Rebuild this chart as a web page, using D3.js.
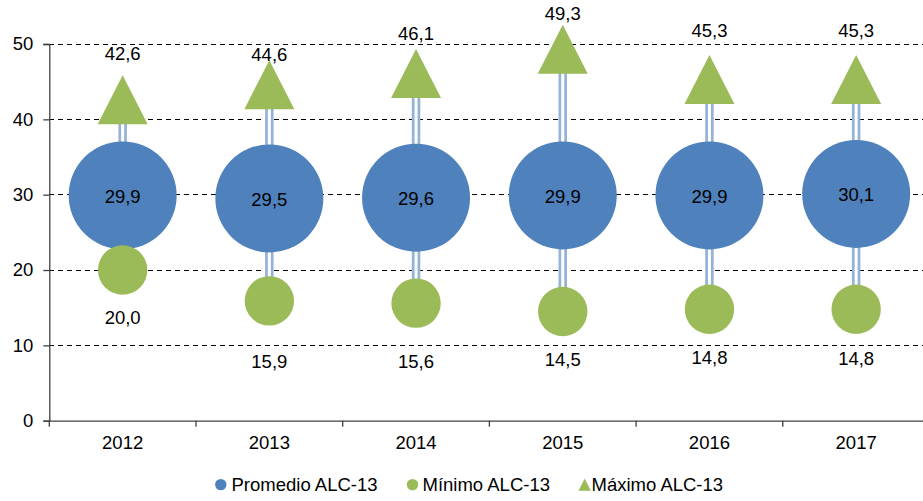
<!DOCTYPE html>
<html>
<head>
<meta charset="utf-8">
<script src="https://cdn.jsdelivr.net/npm/d3@7"></script>
<style>
  body { margin: 0; background: #fff; }
  svg { display: block; }
  text { font-family: "Liberation Sans", Arial, sans-serif; fill: #000; }
</style>
</head>
<body>
<svg id="chart" width="923" height="501"></svg>
<script>
// ---- data ----
const years = ["2012", "2013", "2014", "2015", "2016", "2017"];
const promedio = [29.9, 29.5, 29.6, 29.9, 29.9, 30.1];
const minimo = [20.0, 15.9, 15.6, 14.5, 14.8, 14.8];
const maximo = [42.6, 44.6, 46.1, 49.3, 45.3, 45.3];
const yTicks = [0, 10, 20, 30, 40, 50];
const seriesNames = ["Promedio ALC-13", "Mínimo ALC-13", "Máximo ALC-13"];

// ---- layout ----
const maxLabelDy = [-46, -30, -40, -36, -49, -49];
const minLabelDy = [48, 61, 58, 48, 48, 49];
const colors = { avg: "#4F81BD", min: "#9BBB59", max: "#9BBB59", hilo: "#95B3D7" };
const fontSize = 18.5;

const svg = d3.select("#chart");
const x = d3.scaleBand().domain(years).range([49.3, 929.5]);
const y = d3.scaleLinear().domain([0, 50]).range([420.7, 44]);
const fmt = d3.formatLocale({ decimal: ",", thousands: ".", grouping: [3], currency: ["", ""] }).format(".1f");
const cx = d => x(d) + x.bandwidth() / 2;

// gridlines
svg.append("g").selectAll("line")
  .data(yTicks.filter(v => v > 0))
  .join("line")
  .attr("x1", 49.3).attr("x2", 923)
  .attr("y1", d => y(d)).attr("y2", d => y(d))
  .attr("stroke", "#000").attr("stroke-width", 1)
  .attr("stroke-dasharray", "5,4")
  .attr("shape-rendering", "crispEdges");

// y axis
const yAxis = svg.append("g").attr("transform", "translate(49.3,0)")
  .call(d3.axisLeft(y).tickValues(yTicks).tickSize(6).tickPadding(10).tickFormat(d3.format("d")));
yAxis.selectAll("text").style("font-size", fontSize + "px").attr("fill", "#000");
yAxis.selectAll("line,path").attr("stroke", "#404040").attr("stroke-width", 1.3);

// x axis: labels centred in each band, ticks on the band edges
const xAxis = svg.append("g").attr("transform", "translate(0,420.7)")
  .call(d3.axisBottom(x).tickSize(0).tickPadding(15).tickSizeOuter(0));
xAxis.selectAll("text").style("font-size", fontSize + "px").attr("fill", "#000");
xAxis.select("path").attr("stroke", "#404040").attr("stroke-width", 1.3);
xAxis.selectAll(".edge")
  .data(years.map(d => x(d)).concat([x.range()[1]]))
  .join("line").attr("class", "edge")
  .attr("x1", d => d).attr("x2", d => d)
  .attr("y1", 0).attr("y2", 6)
  .attr("stroke", "#404040").attr("stroke-width", 1.3);

// high-low connectors (double line)
const hilo = svg.append("g");
hilo.selectAll(".outer").data(years).join("line").attr("class", "outer")
  .attr("x1", d => cx(d)).attr("x2", d => cx(d))
  .attr("y1", (d, i) => y(minimo[i])).attr("y2", (d, i) => y(maximo[i]))
  .attr("stroke", colors.hilo).attr("stroke-width", 8.5);
hilo.selectAll(".inner").data(years).join("line").attr("class", "inner")
  .attr("x1", d => cx(d)).attr("x2", d => cx(d))
  .attr("y1", (d, i) => y(minimo[i])).attr("y2", (d, i) => y(maximo[i]))
  .attr("stroke", "#fff").attr("stroke-width", 3);

// average markers
svg.append("g").selectAll("circle").data(years).join("circle")
  .attr("cx", d => cx(d)).attr("cy", (d, i) => y(promedio[i]))
  .attr("r", 54).attr("fill", colors.avg);

// minimum markers
svg.append("g").selectAll("circle").data(years).join("circle")
  .attr("cx", d => cx(d)).attr("cy", (d, i) => y(minimo[i]))
  .attr("r", 24.7).attr("fill", colors.min);

// maximum markers
const tri = "M0,-24.5L25,24.5L-25,24.5Z";
svg.append("g").selectAll("path").data(years).join("path")
  .attr("transform", (d, i) => `translate(${cx(d)},${y(maximo[i])})`)
  .attr("d", tri).attr("fill", colors.max);

// value labels
const labels = svg.append("g").attr("text-anchor", "middle").style("font-size", fontSize + "px");
labels.selectAll(".lavg").data(years).join("text").attr("class", "lavg")
  .attr("x", d => cx(d)).attr("y", (d, i) => y(promedio[i]) + 1).attr("dy", "0.35em")
  .text((d, i) => fmt(promedio[i]));
labels.selectAll(".lmin").data(years).join("text").attr("class", "lmin")
  .attr("x", d => cx(d)).attr("y", (d, i) => y(minimo[i]) + minLabelDy[i]).attr("dy", "0.35em")
  .text((d, i) => fmt(minimo[i]));
labels.selectAll(".lmax").data(years).join("text").attr("class", "lmax")
  .attr("x", d => cx(d)).attr("y", (d, i) => y(maximo[i]) + maxLabelDy[i]).attr("dy", "0.35em")
  .text((d, i) => fmt(maximo[i]));

// legend
const legendItems = [
  { name: seriesNames[0], shape: "circle", color: colors.avg, mx: 220.8, tx: 231.5 },
  { name: seriesNames[1], shape: "circle", color: colors.min, mx: 412.5, tx: 422.5 },
  { name: seriesNames[2], shape: "triangle", color: colors.max, mx: 584.7, tx: 591.5 }
];
const legend = svg.append("g");
legendItems.forEach(it => {
  if (it.shape === "circle") {
    legend.append("circle").attr("cx", it.mx).attr("cy", 484.6).attr("r", 5.7).attr("fill", it.color);
  } else {
    legend.append("path").attr("transform", `translate(${it.mx},484.6)`)
      .attr("d", "M0,-6.2L6.2,6.2L-6.2,6.2Z").attr("fill", it.color);
  }
  legend.append("text").attr("x", it.tx).attr("y", 491)
    .style("font-size", fontSize + "px").text(it.name);
});
</script>
</body>
</html>
